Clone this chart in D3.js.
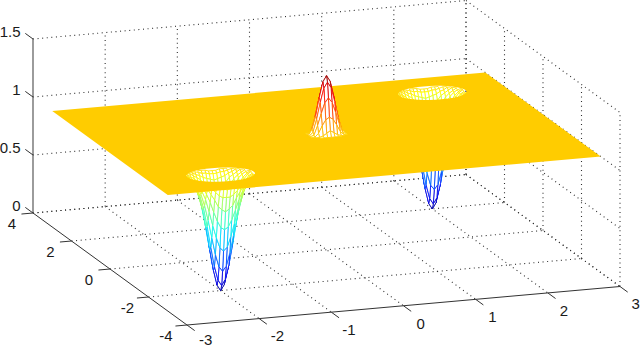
<!DOCTYPE html>
<html>
<head>
<meta charset="utf-8">
<script src="https://d3js.org/d3.v7.min.js"></script>
<style>
  body { margin: 0; background: #fff; }
  svg { display: block; }
  text { font-family: "Liberation Sans", Arial, sans-serif; font-size: 15px; fill: #1a1a1a; }
</style>
</head>
<body>
<svg width="640" height="348"></svg>
<script>
// Tick values on the three axes
var xTicks = [-3, -2, -1, 0, 1, 2, 3];
var yTicks = [-4, -2, 0, 2, 4];
var zTicks = [0, 0.5, 1, 1.5];
var zTickLabels = ['0', '0.5', '1', '1.5'];

// Flat sheet level and extent
var sheetZ = 1;
var sheetX = [-3, 3];
var sheetY = [-3, 3];

// Centres of the two wells and the spike, in data units
var wellCentres = [[2, 2], [-2, -2]];
var spikeCentre = [0, 0];
var rimRadius = 0.46;

// Mesh spacing around each feature
var meshStep = 0.05;

// Well heights, one quadrant, row = |dx| steps, col = |dy| steps
var wellRows = [
    [0.00, 0.05, 0.18, 0.36, 0.55, 0.71, 0.84, 0.91, 0.96, 0.98],
    [0.05, 0.10, 0.22, 0.39, 0.57, 0.73, 0.84, 0.92, 0.96, 0.98],
    [0.18, 0.22, 0.33, 0.48, 0.63, 0.76, 0.86, 0.93, 0.97, 0.99],
    [0.36, 0.39, 0.48, 0.59, 0.71, 0.82, 0.89, 0.94, 0.97, 0.99],
    [0.55, 0.57, 0.63, 0.71, 0.80, 0.87, 0.93, 0.96, 0.98, 0.99],
    [0.71, 0.73, 0.76, 0.82, 0.87, 0.92, 0.95, 0.97, 0.99, 1.00],
    [0.84, 0.84, 0.86, 0.89, 0.93, 0.95, 0.97, 0.99, 0.99, 1.00],
    [0.91, 0.92, 0.93, 0.94, 0.96, 0.97, 0.99, 0.99, 1.00, 1.00],
    [0.96, 0.96, 0.97, 0.97, 0.98, 0.99, 0.99, 1.00, 1.00, 1.00],
    [0.98, 0.98, 0.99, 0.99, 0.99, 1.00, 1.00, 1.00, 1.00, 1.00]
];

// Spike heights, same layout, it ends on the sheet at about 0.22 from its centre
var spikeRows = [
    [1.50, 1.45, 1.32, 1.16, 1.05, 1.00],
    [1.45, 1.40, 1.28, 1.14, 1.03, 1.00],
    [1.32, 1.28, 1.19, 1.09, 1.01, 1.00],
    [1.16, 1.14, 1.09, 1.03, 1.00, 1.00],
    [1.05, 1.03, 1.01, 1.00, 1.00, 1.00],
    [1.00, 1.00, 1.00, 1.00, 1.00, 1.00]
];

var svg = d3.select('svg');

// Oblique projection: each data axis moves the point both across and down the screen
var origin = {x: 33, y: 213};
var xAcross = d3.scaleLinear().domain([-3, 3]).range([0, 433]);
var xDown = d3.scaleLinear().domain([-3, 3]).range([0, -38.5]);
var yAcross = d3.scaleLinear().domain([4, -4]).range([0, 154]);
var yDown = d3.scaleLinear().domain([4, -4]).range([0, 112]);
var zDown = d3.scaleLinear().domain([0, 1.5]).range([0, -174]);

// x labels sit a little closer to their ticks towards the right
var xLabelShift = d3.scaleLinear().domain([-3, 3]).range([18.7, 15.7]);

function project(x, y, z) {
    return [origin.x + xAcross(x) + yAcross(y), origin.y + xDown(x) + yDown(y) + zDown(z)];
}

// jet colormap over the z range
var jet = d3.scaleLinear()
    .domain([0, 0.1875, 0.5625, 0.9375, 1.3125, 1.5])
    .range(['#00008f', '#0000ff', '#00ffff', '#ffff00', '#ff0000', '#800000'])
    .clamp(true);

var line = d3.line();

function drawLine(g, a, b, cls) {
    return g.append('path').attr('class', cls).attr('d', line([a, b]));
}

// Dotted grid on the two back walls and the floor
var gridG = svg.append('g')
    .attr('fill', 'none')
    .attr('stroke', '#2e2e2e')
    .attr('stroke-width', 1.1)
    .attr('stroke-dasharray', '1 3.6');

zTicks.forEach(function(z) {
    drawLine(gridG, project(-3, 4, z), project(3, 4, z), 'grid');
    drawLine(gridG, project(3, 4, z), project(3, -4, z), 'grid');
});
xTicks.slice(1).forEach(function(x) {
    drawLine(gridG, project(x, 4, 0), project(x, 4, 1.5), 'grid');
    drawLine(gridG, project(x, 4, 0), project(x, -4, 0), 'grid');
});
yTicks.forEach(function(y) {
    drawLine(gridG, project(3, y, 0), project(3, y, 1.5), 'grid');
    if (y > -4) drawLine(gridG, project(-3, y, 0), project(3, y, 0), 'grid');
});

// Solid axis lines and their ticks
var axisG = svg.append('g').attr('fill', 'none').attr('stroke', '#333').attr('stroke-width', 1);
drawLine(axisG, project(-3, 4, 0), project(-3, 4, 1.5), 'axis').attr('stroke', '#666').attr('stroke-width', 1.3);
drawLine(axisG, project(-3, 4, 0), project(-3, -4, 0), 'axis');
drawLine(axisG, project(-3, -4, 0), project(3, -4, 0), 'axis');

xTicks.forEach(function(x) {
    drawLine(axisG, project(x, -4, 0), project(x, -4.4, 0), 'tick');
});
yTicks.forEach(function(y) {
    drawLine(axisG, project(-3, y, 0), project(-3.16, y, 0), 'tick');
});
zTicks.forEach(function(z) {
    drawLine(axisG, project(-3, 4, z), project(-3, 4.4, z), 'tick');
});

// Tick labels, the lowest one is held inside the window
var labelG = svg.append('g');
xTicks.forEach(function(x) {
    var p = project(x, -4, 0);
    labelG.append('text').attr('x', p[0] + xLabelShift(x)).attr('y', Math.min(p[1] + 17.5, 339.5))
        .attr('dy', '0.36em').attr('text-anchor', 'middle').text(x);
});
yTicks.forEach(function(y) {
    var p = project(-3, y, 0);
    labelG.append('text').attr('x', p[0] - 21).attr('y', p[1] + 11)
        .attr('dy', '0.36em').attr('text-anchor', 'middle').text(y);
});
zTicks.forEach(function(z, i) {
    var p = project(-3, 4, z);
    labelG.append('text').attr('x', p[0] - 12.5).attr('y', p[1] - 7.5)
        .attr('dy', '0.36em').attr('text-anchor', 'end').text(zTickLabels[i]);
});

// Build mesh cells around a centre from a quadrant table, far cells first
function meshCells(centre, rows) {
    var n = rows.length - 1;
    var cells = [];
    function node(i, j) {
        return {
            x: centre[0] + i * meshStep,
            y: centre[1] + j * meshStep,
            z: rows[Math.abs(i)][Math.abs(j)]
        };
    }
    for (var i = -n; i < n; i++) {
        for (var j = -n; j < n; j++) {
            var cell = [node(i, j), node(i + 1, j), node(i + 1, j + 1), node(i, j + 1)];
            // cells lying flat on the sheet are left out, so the footprint stays round
            if (d3.max(cell, function(d) { return d.z; }) === sheetZ) continue;
            cells.push(cell);
        }
    }
    function depth(c) { return 38.5 / 6 * c[0].x + 14 * c[0].y; }
    return cells.sort(function(a, b) { return depth(b) - depth(a); });
}

function drawMesh(centre, rows) {
    svg.append('g')
        .selectAll('path')
        .data(meshCells(centre, rows))
        .enter().append('path')
        .attr('d', function(c) {
            return line(c.map(function(n) { return project(n.x, n.y, n.z); })) + 'Z';
        })
        .attr('fill', '#fff')
        .attr('stroke', function(c) { return jet(d3.mean(c, function(n) { return n.z; })); })
        .attr('stroke-width', 0.85)
        .attr('stroke-linejoin', 'round');
}

// Wells go first, the sheet then hides all of them except the openings and what hangs below its edge
wellCentres.forEach(function(c) { drawMesh(c, wellRows); });

var sheetPath = line([
    project(sheetX[0], sheetY[1], sheetZ),
    project(sheetX[1], sheetY[1], sheetZ),
    project(sheetX[1], sheetY[0], sheetZ),
    project(sheetX[0], sheetY[0], sheetZ)
]) + 'Z';
wellCentres.forEach(function(c) {
    sheetPath += line(d3.range(0, 360, 10).map(function(a) {
        var t = a * Math.PI / 180;
        return project(c[0] + rimRadius * Math.cos(t), c[1] + rimRadius * Math.sin(t), sheetZ);
    })) + 'Z';
});
svg.append('path')
    .attr('d', sheetPath)
    .attr('fill', '#ffcc00')
    .attr('fill-rule', 'evenodd');

// Spike stands on top of the sheet
drawMesh(spikeCentre, spikeRows);
</script>
</body>
</html>
